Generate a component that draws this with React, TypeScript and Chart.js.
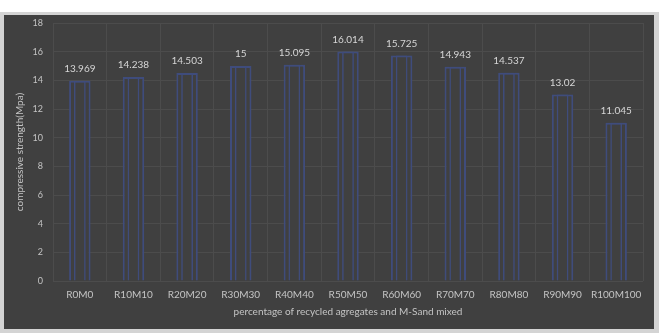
import React, { useEffect, useRef } from "react";
import { Chart, registerables } from "chart.js";

Chart.register(...registerables);

const categories = [
  "R0M0", "R10M10", "R20M20", "R30M30", "R40M40", "R50M50",
  "R60M60", "R70M70", "R80M80", "R90M90", "R100M100",
];
const strength = [13.969, 14.238, 14.503, 15, 15.095, 16.014, 15.725, 14.943, 14.537, 13.02, 11.045];
const strengthLabels = ["13.969", "14.238", "14.503", "15", "15.095", "16.014", "15.725", "14.943", "14.537", "13.02", "11.045"];

const FONT = "Lato, 'Open Sans', sans-serif";
const BG = "#404040";
const BAR_EDGE = "#3f4c7c";

// Writes each value above its bar.
const valueLabels = {
  id: "valueLabels",
  afterDatasetsDraw(chart: any) {
    const meta = chart.getDatasetMeta(0);
    const ctx = chart.ctx;
    ctx.save();
    ctx.font = `10px ${FONT}`;
    ctx.fillStyle = "#d6d6d6";
    ctx.textAlign = "center";
    ctx.textBaseline = "bottom";
    meta.data.forEach((el: any, i: number) => {
      ctx.fillText(strengthLabels[i], el.x, el.y - 7);
    });
    ctx.restore();
  },
};

export default function App() {
  const ref = useRef<HTMLCanvasElement>(null);

  useEffect(() => {
    document.body.style.margin = "0";
    const chart = new Chart(ref.current!, {
      type: "bar",
      data: {
        labels: categories,
        datasets: [
          {
            data: strength,
            backgroundColor: BG,
            borderColor: BAR_EDGE,
            borderWidth: 2,
            barPercentage: 0.4,
            categoryPercentage: 1,
            grouped: false,
            order: 2,
          },
          {
            data: strength,
            backgroundColor: "rgba(0,0,0,0)",
            borderColor: BAR_EDGE,
            borderWidth: 1.5,
            barPercentage: 0.22,
            categoryPercentage: 1,
            grouped: false,
            order: 1,
          },
        ],
      },
      options: {
        animation: false,
        responsive: false,
        maintainAspectRatio: false,
        layout: { padding: { left: 10, right: 11, top: 8, bottom: 11 } },
        plugins: { legend: { display: false }, tooltip: { enabled: false } },
        scales: {
          x: {
            offset: true,
            grid: { color: "#4c4c4c", offset: true, drawTicks: false },
            border: { display: false },
            ticks: { color: "#c4c4c4", font: { family: FONT, size: 10 }, padding: 8, maxRotation: 0 },
            title: {
              display: true,
              text: "percentage of recycled agregates and M-Sand mixed",
              color: "#c4c4c4",
              font: { family: FONT, size: 10 },
              padding: { top: -3, bottom: 0 },
            },
          },
          y: {
            min: 0,
            max: 18,
            ticks: { stepSize: 2, color: "#c4c4c4", font: { family: FONT, size: 9 }, padding: 0 },
            grid: { color: "#4c4c4c", drawTicks: true, tickLength: 10, tickColor: "rgba(0,0,0,0)" },
            border: { display: false },
            title: {
              display: true,
              text: "compressive strength(Mpa)",
              color: "#c4c4c4",
              font: { family: FONT, size: 10 },
              padding: { top: 0, bottom: 0 },
            },
            afterFit(scale: any) {
              scale.width = 39;
            },
          },
        },
      },
      plugins: [valueLabels],
    });
    return () => chart.destroy();
  }, []);

  return (
    <div style={{ position: "relative", width: 659, height: 333, background: "#d4d4d4" }}>
      <div style={{ position: "absolute", left: 0, top: 0, width: 659, height: 12, background: "#ffffff" }} />
      <div style={{ position: "absolute", left: 4, top: 15, width: 650, height: 314, background: BG }}>
        <canvas ref={ref} width={650} height={314} style={{ display: "block" }} />
      </div>
    </div>
  );
}
